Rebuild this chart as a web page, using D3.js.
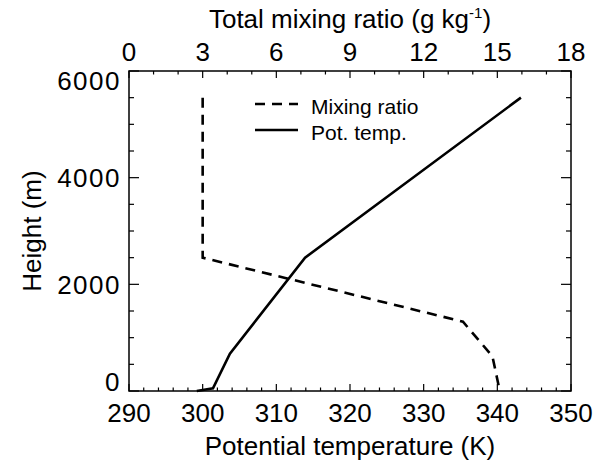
<!DOCTYPE html>
<html>
<head>
<meta charset="utf-8">
<script src="https://cdn.jsdelivr.net/npm/d3@7"></script>
<style>
  body { margin: 0; background: #fff; }
  text { font-family: "Liberation Sans", Arial, sans-serif; fill: #000; }
</style>
</head>
<body>
<div id="chart"></div>
<script>
// data
const mixHeight = [5500, 2500, 1300, 650, 0];
const mixRatio = [3, 3, 13.6, 14.8, 15.1];
const thetaHeight = [0, 50, 700, 2500, 5500];
const theta = [299.2, 301.4, 303.7, 313.9, 343.2];

const thetaTicks = [290, 300, 310, 320, 330, 340, 350];
const mixTicks = [0, 3, 6, 9, 12, 15, 18];
const heightTicks = [0, 2000, 4000, 6000];
const legendLabels = ["Mixing ratio", "Pot. temp."];

const W = 597, H = 463;
const pL = 129, pR = 571, pT = 71, pB = 391;
const fs = 26;

const svg = d3.select("#chart").append("svg")
    .attr("width", W).attr("height", H);

const x = d3.scaleLinear().domain([290, 350]).range([pL, pR]);
const xTop = d3.scaleLinear().domain([0, 18]).range([pL, pR]);
const y = d3.scaleLinear().domain([0, 6000]).range([pB, pT]);

// frame
svg.append("rect")
    .attr("x", pL).attr("y", pT)
    .attr("width", pR - pL).attr("height", pB - pT)
    .attr("fill", "none").attr("stroke", "#000").attr("stroke-width", 1.5);

// ticks, all pointing inward
const tickG = svg.append("g").attr("stroke", "#000").attr("stroke-width", 1.2);
d3.range(290, 350.01, 2).forEach(v => {
  const len = v % 10 === 0 ? 7 : 3.5;
  tickG.append("line").attr("x1", x(v)).attr("x2", x(v)).attr("y1", pB).attr("y2", pB - len);
});
d3.range(0, 18.01, 1).forEach(v => {
  const len = v % 3 === 0 ? 7 : 3.5;
  tickG.append("line").attr("x1", xTop(v)).attr("x2", xTop(v)).attr("y1", pT).attr("y2", pT + len);
});
d3.range(0, 6000.1, 500).forEach(v => {
  const len = v % 2000 === 0 ? 10 : 5;
  tickG.append("line").attr("x1", pL).attr("x2", pL + len).attr("y1", y(v)).attr("y2", y(v));
  tickG.append("line").attr("x1", pR).attr("x2", pR - len).attr("y1", y(v)).attr("y2", y(v));
});

// tick labels
svg.selectAll(".xlab").data(thetaTicks).enter().append("text")
    .attr("x", d => x(d)).attr("y", 422)
    .attr("text-anchor", "middle").style("font-size", fs + "px")
    .text(d => d);
svg.selectAll(".xtlab").data(mixTicks).enter().append("text")
    .attr("x", d => xTop(d)).attr("y", 61)
    .attr("text-anchor", "middle").style("font-size", fs + "px")
    .text(d => d);
const capH = fs * 0.72;
svg.selectAll(".ylab").data(heightTicks).enter().append("text")
    .attr("x", 121)
    .attr("y", d => Math.max(pT + capH / 2, Math.min(pB - capH / 2, y(d))) + capH / 2)
    .attr("text-anchor", "end").style("font-size", fs + "px")
    .style("letter-spacing", "1.5px")
    .text(d => d);

// axis titles
svg.append("text")
    .attr("x", (pL + pR) / 2).attr("y", 455)
    .attr("text-anchor", "middle").style("font-size", fs + "px")
    .text("Potential temperature (K)");
const tt = svg.append("text")
    .attr("x", (pL + pR) / 2).attr("y", 28)
    .attr("text-anchor", "middle")
    .style("font-size", fs + "px");
tt.append("tspan").text("Total mixing ratio (g kg");
tt.append("tspan").attr("dy", -10).style("font-size", "15px").text("-1");
tt.append("tspan").attr("dy", 10).text(")");
svg.append("text")
    .attr("transform", `translate(41,${(pT + pB) / 2}) rotate(-90)`)
    .attr("text-anchor", "middle").style("font-size", fs + "px")
    .text("Height (m)");

// lines
const mixLine = d3.line().x(d => xTop(d[0])).y(d => y(d[1]));
const thetaLine = d3.line().x(d => x(d[0])).y(d => y(d[1]));

svg.append("path")
    .attr("d", mixLine(mixRatio.map((v, i) => [v, mixHeight[i]])))
    .attr("fill", "none").attr("stroke", "#000").attr("stroke-width", 2.6)
    .attr("stroke-dasharray", "10,7");
svg.append("path")
    .attr("d", thetaLine(theta.map((v, i) => [v, thetaHeight[i]])))
    .attr("fill", "none").attr("stroke", "#000").attr("stroke-width", 2.6);

// legend
const leg = svg.append("g");
legendLabels.forEach((lab, i) => {
  const ly = 104 + i * 26;
  leg.append("line")
      .attr("x1", 255).attr("x2", 298).attr("y1", ly).attr("y2", ly)
      .attr("stroke", "#000").attr("stroke-width", 2.6)
      .attr("stroke-dasharray", i === 0 ? "10,7" : null);
  leg.append("text")
      .attr("x", 311).attr("y", ly + 10)
      .style("font-size", "21px")
      .text(lab);
});
</script>
</body>
</html>
